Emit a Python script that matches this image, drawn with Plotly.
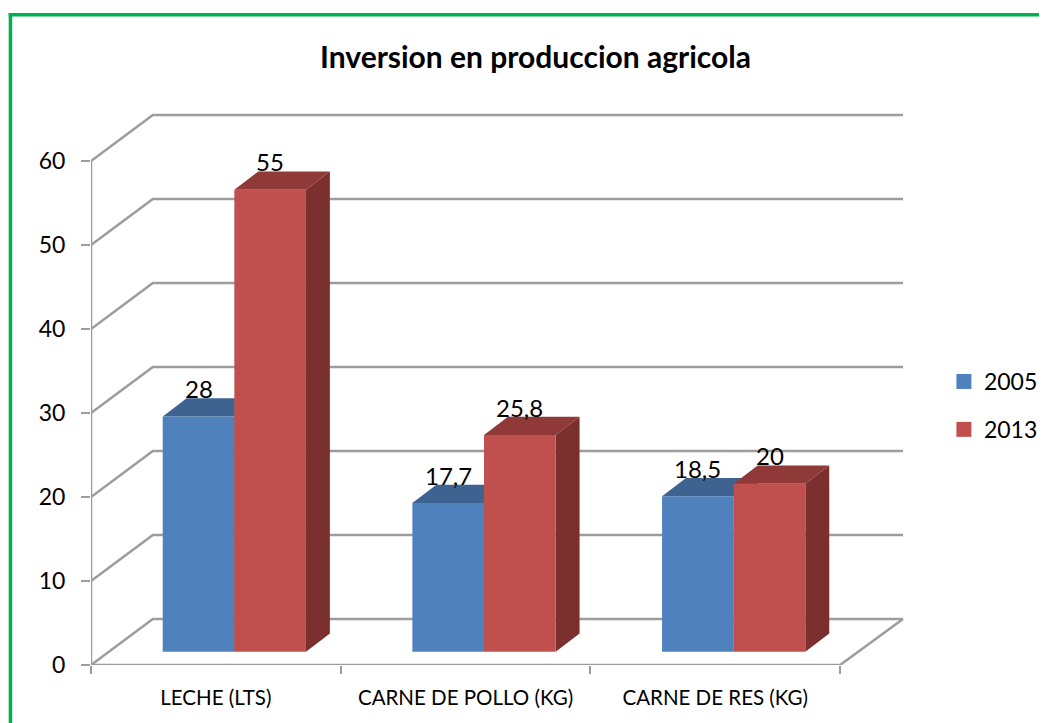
import plotly.graph_objects as go

# ---- data ----
categories = ["LECHE (LTS)", "CARNE DE POLLO (KG)", "CARNE DE RES (KG)"]
years = ["2005", "2013"]
values_2005 = [28, 17.7, 18.5]
values_2013 = [55, 25.8, 20]
labels_2005 = ["28", "17,7", "18,5"]
labels_2013 = ["55", "25,8", "20"]
y_ticks = [0, 10, 20, 30, 40, 50, 60]

# ---- geometry / style ----
OFF = 8  # the page's own body margin
W, H = 1047, 723 - OFF
L, R, T, B = 91 - OFF, 909 - OFF, 111 - OFF, 665 - OFF
PX_X, PX_Y = 250.3, 8.4
xr = [0, (R - L) / PX_X]
yr = [0, (B - T) / PX_Y]
WALL_END = (905 - 91) / PX_X
FLOOR_DX, FLOOR_DY = 62 / PX_X, 46 / PX_Y
BAR_W = 71.8 / PX_X
BAR_SHIFT = 0.574
BAR_BASE = 1.58
DEPTH_X, DEPTH_Y = 24 / PX_X, 18.3 / PX_Y
GRAY = "#9c9c9c"
FONT = "Lato"
C_FRONT = ["#4f81bd", "#c0504d"]
C_TOP = ["#3e6390", "#8f3a38"]
C_SIDE = ["#395c86", "#7c302e"]

fig = go.Figure()

# wall / floor lines
gx, gy = [], []
for v in y_ticks:
    gx += [0, FLOOR_DX, WALL_END, None]
    gy += [v, v + FLOOR_DY, v + FLOOR_DY, None]
fig.add_trace(go.Scatter(x=gx, y=gy, mode="lines", line=dict(color=GRAY, width=2.5),
                         showlegend=False, hoverinfo="skip"))
fig.add_trace(go.Scatter(x=[0, 0, None, 0, 3, WALL_END],
                         y=[y_ticks[-1], 0, None, 0, 0, FLOOR_DY],
                         mode="lines", line=dict(color=GRAY, width=2.5),
                         showlegend=False, hoverinfo="skip", cliponaxis=False))

# depth faces of each bar, computed from the values
series = [values_2005, values_2013]
for s, vals in enumerate(series):
    for i, v in enumerate(vals):
        x0 = i + BAR_SHIFT + (s - 1) * BAR_W
        x1 = x0 + BAR_W
        top = BAR_BASE + v
        fig.add_trace(go.Scatter(
            x=[x0, x0 + DEPTH_X, x1 + DEPTH_X, x1, x0],
            y=[top, top + DEPTH_Y, top + DEPTH_Y, top, top],
            mode="lines", fill="toself", fillcolor=C_TOP[s],
            line=dict(width=0), showlegend=False, hoverinfo="skip"))
        fig.add_trace(go.Scatter(
            x=[x1, x1 + DEPTH_X, x1 + DEPTH_X, x1, x1],
            y=[top, top + DEPTH_Y, BAR_BASE + DEPTH_Y, BAR_BASE, top],
            mode="lines", fill="toself", fillcolor=C_SIDE[s],
            line=dict(width=0), showlegend=False, hoverinfo="skip"))

# front faces on an overlaying axis pair, so they sit above the depth faces
centres = [i + BAR_SHIFT for i in range(len(categories))]
for s, vals in enumerate(series):
    fig.add_trace(go.Bar(x=centres, y=vals, base=BAR_BASE, width=BAR_W,
                         offset=(s - 1) * BAR_W, name=years[s],
                         marker=dict(color=C_FRONT[s], line=dict(width=0)),
                         xaxis="x2", yaxis="y2", showlegend=False))

# legend entries
for s, name in enumerate(years):
    fig.add_trace(go.Scatter(x=[None], y=[None], mode="markers", name=name, legendgroup=name,
                             marker=dict(symbol="square", size=15, color=C_FRONT[s])))

# data labels
annots = []
for s, (vals, labs) in enumerate(zip(series, [labels_2005, labels_2013])):
    for i, (v, t) in enumerate(zip(vals, labs)):
        annots.append(dict(
            x=i + BAR_SHIFT + (s - 0.5) * BAR_W, y=BAR_BASE + v + DEPTH_Y,
            xref="x", yref="y", text=t, showarrow=False, xanchor="center", yanchor="bottom",
            yshift=-6, borderpad=0, font=dict(family=FONT, size=24, color="black")))


def px(x):
    return (x - OFF - L) / (R - L)


def py(y):
    return (B - (y - OFF)) / (B - T)


green = "#00b050"
shapes = [
    dict(type="rect", xref="paper", yref="paper", x0=px(8.5), x1=px(1047), y0=py(16.5), y1=py(13),
         fillcolor=green, line=dict(width=0), layer="below"),
    dict(type="rect", xref="paper", yref="paper", x0=px(8.5), x1=px(12), y0=py(723), y1=py(13),
         fillcolor=green, line=dict(width=0), layer="below"),
]

fig.update_layout(
    width=W, height=H, autosize=False,
    margin=dict(l=L, r=W - R, t=T, b=H - B, pad=0),
    paper_bgcolor="white", plot_bgcolor="white",
    barmode="overlay",
    font=dict(family=FONT, color="black"),
    title=dict(text="<b>Inversion en produccion agricola</b>", xref="container", yref="container",
               x=(535.5 - OFF) / W, y=1 - (57 - OFF) / H, xanchor="center", yanchor="middle",
               font=dict(family=FONT, size=30, color="black")),
    xaxis=dict(range=xr, showgrid=False, zeroline=False, showline=False,
               tickmode="array", tickvals=[0.5, 1.5, 2.5], ticktext=categories,
               ticks="outside", ticklen=14, tickcolor="rgba(0,0,0,0)",
               tickfont=dict(family=FONT, size=20.5, color="black"),
               minor=dict(tickmode="array", tickvals=[0, 1, 2, 3], ticks="outside",
                          ticklen=8, tickwidth=1.5, tickcolor=GRAY, showgrid=False)),
    yaxis=dict(range=yr, showgrid=False, zeroline=False, showline=False,
               tickmode="array", tickvals=y_ticks, ticks="outside", ticklen=9, tickwidth=2,
               tickcolor=GRAY, ticklabelstandoff=11,
               tickfont=dict(family=FONT, size=23, color="black")),
    xaxis2=dict(range=xr, overlaying="x", visible=False),
    yaxis2=dict(range=yr, overlaying="y", visible=False, anchor="x2"),
    legend=dict(x=px(946), y=py(360), xanchor="left", yanchor="top", xref="paper", yref="paper",
                tracegroupgap=15, bgcolor="rgba(0,0,0,0)",
                font=dict(family=FONT, size=23, color="black")),
    annotations=annots,
    shapes=shapes,
)

fig.write_html("out.html")
